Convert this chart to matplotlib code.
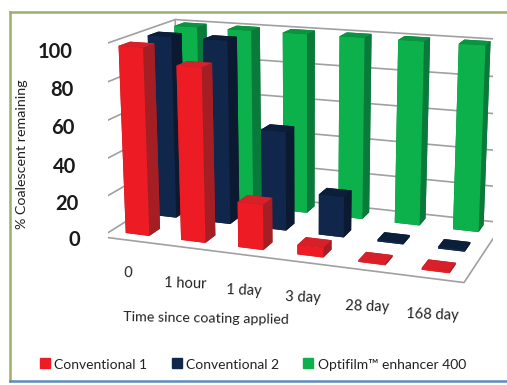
"""3D bars of coalescent remaining against time since coating applied.
"""
import numpy as np
import matplotlib
matplotlib.use('Agg')
import matplotlib.pyplot as plt
from matplotlib.patches import Rectangle

categories = ['0', '1 hour', '1 day', '3 day', '28 day', '168 day']
series_names = ['Conventional 1', 'Conventional 2', 'Optifilm\u2122 enhancer 400']
conventional_1 = [100, 92, 24, 5, 1, 1]
conventional_2 = [100, 100, 54, 22, 1, 1]
optifilm = [100, 100, 100, 100, 100, 100]
z_ticks = [0, 20, 40, 60, 80, 100]

front_colors = ['#ED1C24', '#10264A', '#0DB14B']
side_colors = ['#A51E24', '#0B1A30', '#097A3A']
top_colors = ['#D8202A', '#0C1F3A', '#0A9440']

W, H = 507, 385
plt.rcParams['font.family'] = ['Lato', 'DejaVu Sans']

fig = plt.figure(figsize=(W / 100, H / 100), dpi=100)
# view found by fitting the wall corners of the reference
ax = fig.add_axes([47.2 / W, 48.7 / H, 1.0, 1.0], projection='3d')
ax.set_axis_off()
ax.patch.set_alpha(0)
ax.computed_zorder = False
ax.set_xlim(0, 6)
ax.set_ylim(0, 3)
ax.set_zlim(0, 100)
ax.set_box_aspect((6, 2.936, 3.112), zoom=1.146)
ax.view_init(elev=14.641, azim=-70.081)
ax.set_proj_type('persp', focal_length=0.603)


def fpx(x, y):
    # pixel position to figure fraction
    return x / W, 1 - y / H


# walls and floor
wall = dict(color='#A0A0A0', lw=1.2, zorder=1)
for z in z_ticks:
    ax.plot([0, 0, 6], [0, 3, 3], [z, z, z], **wall)
ax.plot([0, 0], [0, 0], [0, 100], **wall)
ax.plot([0, 0], [3, 3], [0, 100], **wall)
ax.plot([0, 6, 6], [0, 0, 3], [0, 0, 0], **wall)

# bars, back row first
bar_w, bar_d = 0.43, 0.4
order = 2
for row, vals in reversed(list(enumerate([conventional_1, conventional_2, optifilm]))):
    for col, v in enumerate(vals):
        # bar3d face order: bottom, top, -y, +y, -x, +x
        colors = [side_colors[row], top_colors[row], front_colors[row],
                  side_colors[row], side_colors[row], side_colors[row]]
        ax.bar3d(col + 0.28, 0.31 + row * 1.03, 0, bar_w, bar_d, v, color=colors,
                 shade=False, zorder=order)
        order += 1

# tick labels
z_label_px = [(74, 240), (67, 204), (65, 167), (63, 128), (62, 90), (55, 52)]
for z, (px, py) in zip(z_ticks, z_label_px):
    fig.text(*fpx(px, py), str(z), fontsize=14.5, fontweight='bold', color='#1A1A1A',
             ha='center', va='center')

cat_px = [(128, 273), (185, 284), (244, 291), (303, 298), (367, 307), (432, 315)]
for name, (px, py) in zip(categories, cat_px):
    fig.text(*fpx(px, py), name, fontsize=10.5, color='#222222', ha='center', va='center',
             rotation=-2)

fig.text(*fpx(206, 318), 'Time since coating applied', fontsize=10.3, color='#222222',
         ha='center', va='center', rotation=-1)
fig.text(*fpx(22, 154), '% Coalescent remaining', fontsize=10.3, color='#222222',
         ha='center', va='center', rotation=90)

# legend
for x0, xt, c, name in zip([40, 172, 303], [54, 186, 318], front_colors, series_names):
    fig.add_artist(Rectangle(fpx(x0, 368), 10 / W, 10 / H, color=c, transform=fig.transFigure))
    fig.text(*fpx(xt, 365), name, fontsize=10, color='#222222', ha='left', va='center')

# frame of the page
fig.add_artist(plt.Line2D([10 / W, 10 / W], [1 - 381 / H, 1 - 12 / H], color='#9BB068', lw=1.8))
fig.add_artist(plt.Line2D([10 / W, 1], [1 - 12 / H, 1 - 12 / H], color='#9BB068', lw=1.8))
fig.add_artist(plt.Line2D([10 / W, 1], [1 - 381 / H, 1 - 381 / H], color='#5B8BC0', lw=1.8))

fig.savefig('out.png', dpi=100)
